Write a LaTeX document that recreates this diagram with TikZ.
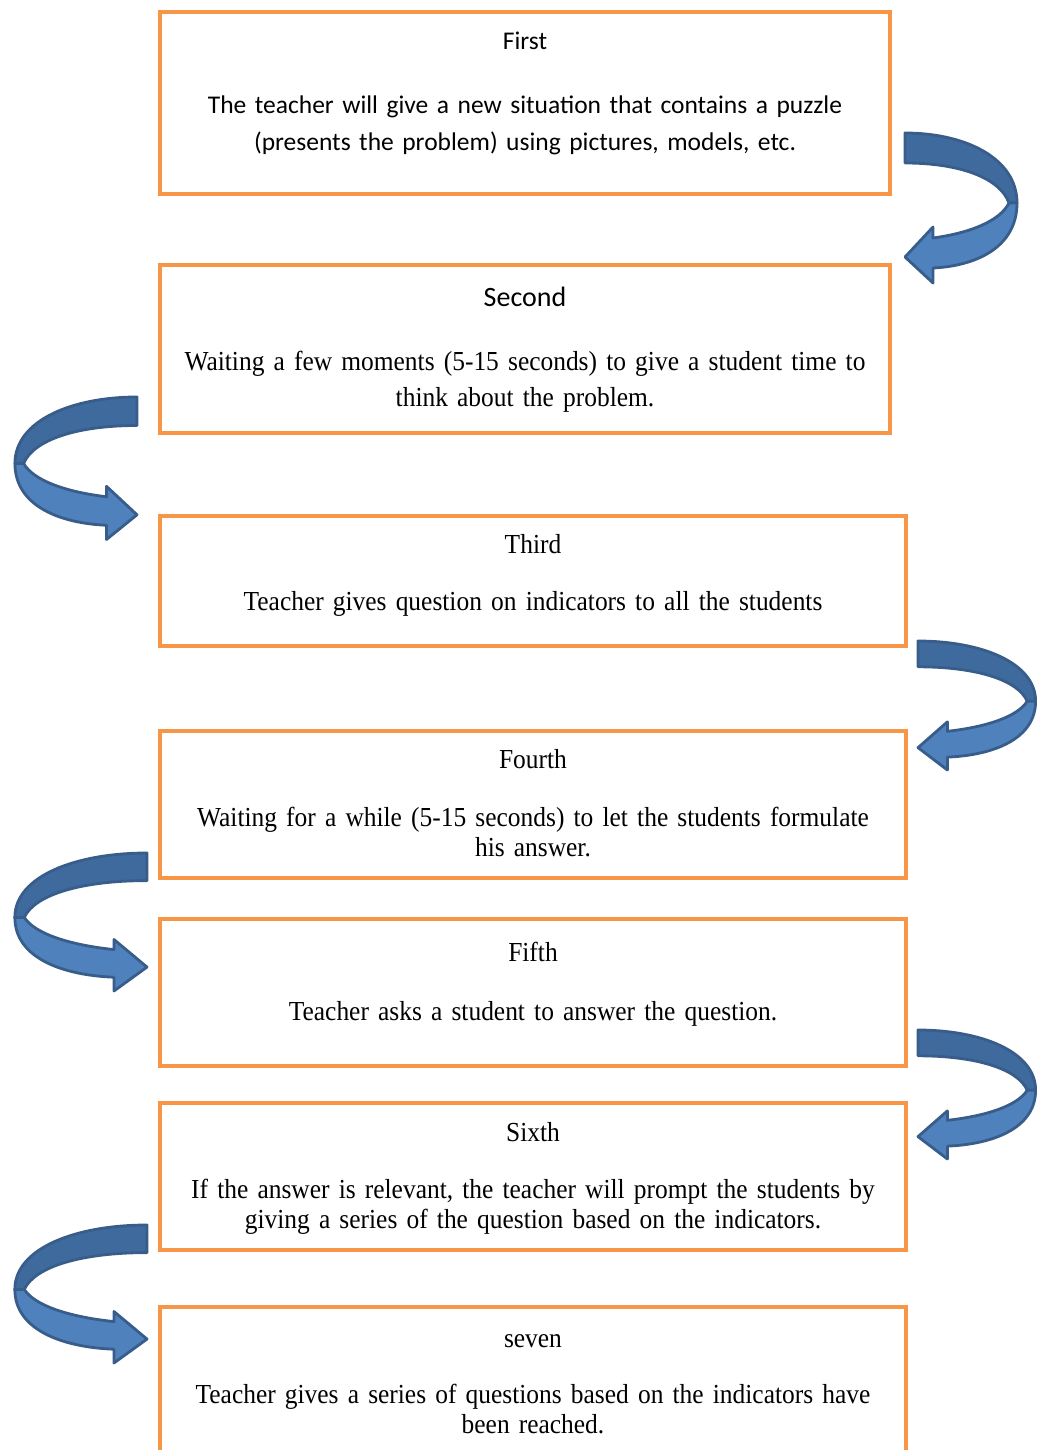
\documentclass[tikz,border=0pt]{standalone}
\usepackage{fontspec}
\setmainfont{Liberation Serif}[FakeStretch=0.925]
\newfontfamily\calibrifont{Carlito}
\usetikzlibrary{positioning}
\definecolor{stepframe}{HTML}{F79646}
\definecolor{turnfill}{HTML}{4F81BD}
\definecolor{turnback}{HTML}{3F6A9E}
\definecolor{turnedge}{HTML}{385D8A}

\tikzset{
  turnarrow/.pic={
    % back of the ribbon
    \filldraw[fill=turnback,draw=turnedge,line width=2.8pt,line join=round]
      (0,0) .. controls (60,0) and (112,25) .. (112,70)
      -- (104,70) .. controls (95,45) and (55,30) .. (0,30) -- cycle;
    % front of the ribbon, with the head
    \filldraw[fill=turnfill,draw=turnedge,line width=2.8pt,line join=round]
      (112,70) .. controls (112,115) and (70,133) .. (28,135)
      -- (28,150) -- (0,124) -- (28,94) -- (28,105)
      .. controls (65,100) and (95,88) .. (104,70) -- cycle;
  }
}

\begin{document}
\begin{tikzpicture}[x=1pt,y=-1pt,
  stagebox/.style={draw=stepframe,line width=4.5pt,minimum width=730pt,text width=720pt,
    align=center,inner sep=0pt,anchor=north west},
  widebox/.style={stagebox,minimum width=746pt,text width=736pt},
  serifbody/.style={font=\fontsize{27.5}{30}\selectfont}
]
\useasboundingbox (0,0) rectangle (1036,1450);

\node[stagebox,text height=38pt,text depth=144pt,font=\calibrifont\fontsize{25.5}{37}\selectfont] (first) at (157.75,9.75)
  {First\\[27pt]The teacher will give a new situation that contains a puzzle\\(presents the problem) using pictures, models, etc.};
\node[stagebox,text height=41pt,text depth=127pt,below=66.5pt of first.south west,anchor=north west,
  font=\fontsize{27.5}{36}\selectfont] (second)
  {{\calibrifont\fontsize{28}{36}\selectfont Second}\\[28pt]Waiting a few moments (5-15 seconds) to give a student time to\\think about the problem.};
\node[widebox,text height=37pt,text depth=93pt,below=78.5pt of second.south west,anchor=north west,serifbody] (third)
  {Third\\[27pt]Teacher gives question on indicators to all the students};
\node[widebox,text height=37pt,text depth=110pt,below=80.5pt of third.south west,anchor=north west,serifbody] (fourth)
  {Fourth\\[28pt]Waiting for a while (5-15 seconds) to let the students formulate\\his answer.};
\node[widebox,text height=42pt,text depth=105pt,below=36.5pt of fourth.south west,anchor=north west,serifbody] (fifth)
  {Fifth\\[29pt]Teacher asks a student to answer the question.};
\node[widebox,text height=38pt,text depth=109pt,below=32.5pt of fifth.south west,anchor=north west,serifbody] (sixth)
  {Sixth\\[27pt]If the answer is relevant, the teacher will prompt the students by\\giving a series of the question based on the indicators.};
\node[widebox,text height=40pt,text depth=120pt,below=52.5pt of sixth.south west,anchor=north west,serifbody] (seventh)
  {seven\\[26pt]Teacher gives a series of questions based on the indicators have\\been reached.};

% turning arrows between the steps
\pic at ([xshift=12.75pt,yshift=63.25pt]first.south east) {turnarrow};
\pic[xscale=-1.09,yscale=0.95] at ([xshift=-20.75pt,yshift=38.25pt]second.south west) {turnarrow};
\pic[xscale=1.05,yscale=0.86] at ([xshift=9.75pt,yshift=7.25pt]third.south east) {turnarrow};
\pic[xscale=-1.18,yscale=0.92] at ([xshift=-10.75pt,yshift=27.25pt]fourth.south west) {turnarrow};
\pic[xscale=1.05,yscale=0.86] at ([xshift=9.75pt,yshift=38.25pt]fifth.south east) {turnarrow};
\pic[xscale=-1.18,yscale=0.92] at ([xshift=-10.75pt,yshift=27.25pt]sixth.south west) {turnarrow};
\end{tikzpicture}
\end{document}
